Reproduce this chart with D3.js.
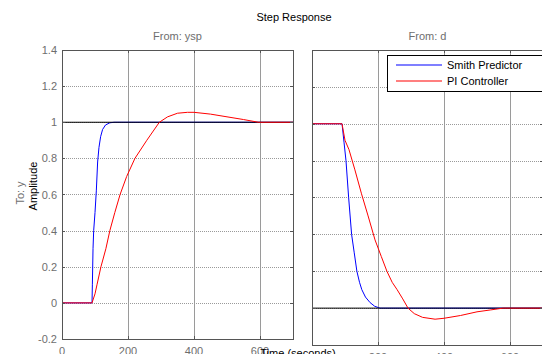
<!DOCTYPE html>
<meta charset="utf-8">
<html>
<head>
<style>
  body { margin: 0; background: #fff; }
  svg { display: block; font-family: "Liberation Sans", Arial, sans-serif; }
  .grid line { stroke: #9a9a9a; stroke-width: 1; shape-rendering: crispEdges; }
  .tick-lbl { fill: #6e6e6e; font-size: 11px; }
</style>
</head>
<body>
<script src="https://cdn.jsdelivr.net/npm/d3@7"></script>
<script>
  // ---- data ----
  var xTicks = [0, 200, 400, 600];
  var yTicks = [-0.2, 0, 0.2, 0.4, 0.6, 0.8, 1, 1.2, 1.4];
  var yTickLabels = ["-0.2", "0", "0.2", "0.4", "0.6", "0.8", "1", "1.2", "1.4"];

  // From: ysp (setpoint step)
  var tSmithSP = [0, 91, 92, 94, 96, 100, 104, 108, 112, 117, 123, 132, 145, 158, 700];
  var smithSP  = [0, 0, 0.1, 0.3, 0.4, 0.5, 0.62, 0.78, 0.86, 0.92, 0.96, 0.985, 0.997, 1.0, 1.0];
  var tPiSP = [0, 91, 100, 106, 118, 133, 145, 160, 176, 196, 221, 257, 295, 320, 350, 380, 400, 450, 500, 550, 595, 700];
  var piSP  = [0, 0, 0.05, 0.1, 0.2, 0.3, 0.4, 0.5, 0.6, 0.7, 0.8, 0.9, 1.0, 1.03, 1.05, 1.055, 1.055, 1.045, 1.03, 1.015, 1.0, 1.0];

  // From: d (disturbance step)
  var tSmithD = [0, 91, 97, 103, 111, 120, 128, 136, 144, 151, 162, 176, 190, 206, 700];
  var smithD  = [1, 1, 0.9, 0.8, 0.6, 0.4, 0.3, 0.2, 0.14, 0.1, 0.06, 0.03, 0.01, 0, 0];
  var tPiD = [0, 91, 100, 112, 130, 150, 170, 191, 210, 227, 243, 258, 275, 291, 310, 335, 373, 400, 450, 500, 540, 579, 700];
  var piD  = [1, 1, 0.91, 0.86, 0.75, 0.62, 0.5, 0.37, 0.28, 0.2, 0.14, 0.1, 0.05, 0, -0.03, -0.05, -0.06, -0.055, -0.04, -0.02, -0.01, 0, 0];

  var seriesNames = ["Smith Predictor", "PI Controller"];
  var seriesColors = ["#0000ff", "#ff0000"];

  var W = 542, H = 354;
  var svg = d3.select("body").append("svg").attr("width", W).attr("height", H);

  var panels = [
    { title: "From: ysp", left: 62, right: 293, top: 50, bottom: 339, ref: 1,
      lines: [[tSmithSP, smithSP], [tPiSP, piSP]], yLabels: true, xLblY: 355 },
    { title: "From: d", left: 312, right: 543, top: 50, bottom: 345, ref: 0,
      lines: [[tSmithD, smithD], [tPiD, piD]], yLabels: false, xLblY: 361 }
  ];

  var lineGen = function(x, y) {
    return d3.line().x(function(d) { return x(d[0]); }).y(function(d) { return y(d[1]); });
  };

  panels.forEach(function(p, i) {
    var x = d3.scaleLinear().domain([0, 700]).range([p.left, p.right]);
    var y = d3.scaleLinear().domain([-0.2, 1.4]).range([p.bottom, p.top]);
    var g = svg.append("g");

    g.append("rect")
      .attr("x", p.left).attr("y", p.top)
      .attr("width", p.right - p.left).attr("height", p.bottom - p.top)
      .attr("fill", "#fff");

    // grid
    var grid = g.append("g").attr("class", "grid");
    grid.selectAll(".gx").data(xTicks.slice(1)).enter().append("line")
      .attr("x1", function(d) { return Math.round(x(d)) + 0.5; })
      .attr("x2", function(d) { return Math.round(x(d)) + 0.5; })
      .attr("y1", p.top).attr("y2", p.bottom);
    grid.selectAll(".gy").data(yTicks.slice(1, -1)).enter().append("line")
      .attr("y1", function(d) { return Math.round(y(d)) + 0.5; })
      .attr("y2", function(d) { return Math.round(y(d)) + 0.5; })
      .attr("x1", p.left).attr("x2", p.right)
      .attr("stroke-dasharray", "1,1");

    var pts = function(s) { return s[0].map(function(t, j) { return [t, s[1][j]]; }); };

    // Smith predictor curve, then final-value line over it, then PI curve on top
    g.append("path")
      .datum(pts(p.lines[0]))
      .attr("fill", "none").attr("stroke", seriesColors[0]).attr("stroke-width", 1)
      .attr("d", lineGen(x, y));

    g.append("line")
      .attr("x1", p.left).attr("x2", p.right)
      .attr("y1", y(p.ref)).attr("y2", y(p.ref))
      .attr("stroke", "#000").attr("stroke-width", 1);

    g.append("path")
      .datum(pts(p.lines[1]))
      .attr("fill", "none").attr("stroke", seriesColors[1]).attr("stroke-width", 1)
      .attr("d", lineGen(x, y));

    // box + inward ticks
    g.append("rect")
      .attr("x", p.left + 0.5).attr("y", p.top + 0.5)
      .attr("width", p.right - p.left).attr("height", p.bottom - p.top)
      .attr("fill", "none").attr("stroke", "#555");

    var ticks = g.append("g").attr("stroke", "#555");
    xTicks.forEach(function(d) {
      var xx = Math.round(x(d)) + 0.5;
      ticks.append("line").attr("x1", xx).attr("x2", xx).attr("y1", p.bottom).attr("y2", p.bottom - 3);
      ticks.append("line").attr("x1", xx).attr("x2", xx).attr("y1", p.top).attr("y2", p.top + 3);
    });
    yTicks.forEach(function(d) {
      var yy = Math.round(y(d)) + 0.5;
      ticks.append("line").attr("x1", p.left).attr("x2", p.left + 3).attr("y1", yy).attr("y2", yy);
      ticks.append("line").attr("x1", p.right).attr("x2", p.right - 3).attr("y1", yy).attr("y2", yy);
    });

    // tick labels
    g.selectAll(".xl").data(i === 0 ? xTicks : xTicks.slice(1)).enter().append("text")
      .attr("class", "tick-lbl")
      .attr("x", function(d) { return x(d); })
      .attr("y", p.xLblY)
      .attr("text-anchor", "middle")
      .text(function(d) { return d; });

    if (p.yLabels) {
      g.selectAll(".yl").data(yTicks).enter().append("text")
        .attr("class", "tick-lbl")
        .attr("x", p.left - 5)
        .attr("y", function(d) { return y(d) + 4; })
        .attr("text-anchor", "end")
        .text(function(d, j) { return yTickLabels[j]; });
    }

    g.append("text")
      .attr("x", (p.left + p.right) / 2).attr("y", 40)
      .attr("text-anchor", "middle")
      .attr("fill", "#6e6e6e").attr("font-size", "11px")
      .text(p.title);
  });

  // titles
  svg.append("text").attr("x", 294).attr("y", 21).attr("text-anchor", "middle")
    .attr("font-size", "11px").attr("fill", "#000").text("Step Response");

  svg.append("text").attr("transform", "translate(24,193) rotate(-90)")
    .attr("text-anchor", "middle").attr("font-size", "11px").attr("fill", "#6e6e6e").text("To: y");
  svg.append("text").attr("transform", "translate(37,186) rotate(-90)")
    .attr("text-anchor", "middle").attr("font-size", "11px").attr("fill", "#000").text("Amplitude");

  svg.append("text").attr("x", 298).attr("y", 357).attr("text-anchor", "middle")
    .attr("font-size", "11px").attr("fill", "#000").text("Time (seconds)");

  // legend
  var leg = svg.append("g");
  leg.append("rect").attr("x", 387.5).attr("y", 55.5).attr("width", 160).attr("height", 36)
    .attr("fill", "#fff").attr("stroke", "#000").attr("stroke-width", 1);
  seriesNames.forEach(function(n, k) {
    var yy = 65 + k * 16;
    leg.append("path")
      .attr("d", "M396," + yy + "H442")
      .attr("fill", "none")
      .attr("stroke", seriesColors[k]).attr("stroke-width", 1.2);
    leg.append("text").attr("x", 447).attr("y", yy + 4).attr("font-size", "11px").attr("fill", "#000").text(n);
  });
</script>
</body>
</html>
